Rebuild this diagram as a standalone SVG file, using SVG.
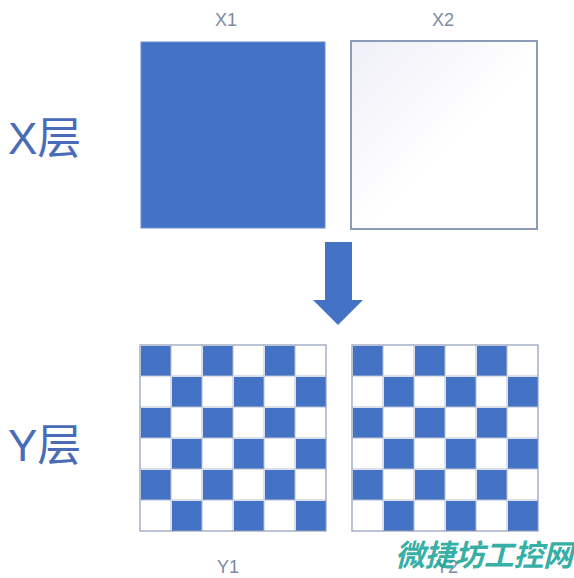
<svg xmlns="http://www.w3.org/2000/svg" width="574" height="578" viewBox="0 0 574 578">
<style>
.lbl{font-family:"Liberation Sans",Arial,sans-serif;font-size:18px;fill:#7d8aa3;text-anchor:middle}
.layer{font-family:"Liberation Sans","Noto Sans CJK SC",sans-serif;font-size:44px;fill:#4a6cb8}
.b{fill:#4472c4}
.grid{stroke:#b7c0d3;stroke-width:1;fill:none}
</style>
<defs>
<linearGradient id="g2" x1="0" y1="0" x2="1" y2="1">
<stop offset="0" stop-color="#eff0f8"/>
<stop offset="0.55" stop-color="#ffffff"/>
</linearGradient>
<pattern id="chk" x="0" y="0" width="62" height="62" patternUnits="userSpaceOnUse">
<rect width="62" height="62" fill="#ffffff"/>
<rect x="1" y="1" width="30" height="30" class="b"/>
<rect x="32" y="32" width="30" height="30" class="b"/>
</pattern>
</defs>
<rect width="574" height="578" fill="#ffffff"/>
<g id="label-xlayer"><text class="layer" x="8" y="154">X层</text></g>
<g id="label-ylayer"><text class="layer" x="8" y="461">Y层</text></g>
<g id="X1"><rect x="141" y="42" width="184" height="186" class="b" stroke="#6b8ed0" stroke-width="1"/><text class="lbl" x="226" y="26">X1</text></g>
<g id="X2"><rect x="351" y="41" width="186" height="188" fill="url(#g2)" stroke="#8e9bb8" stroke-width="2"/><text class="lbl" x="443" y="26">X2</text></g>
<g id="connectors"><path d="M325,242 H352 V300 H363 L338,325 L313,300 H325 Z" fill="#4472c4"/></g>
<g id="Y1">
<g transform="translate(140,345)">
<rect width="186" height="186" fill="url(#chk)"/>
<path class="grid" d="M31,0V186M62,0V186M93,0V186M124,0V186M155,0V186M0,31H186M0,62H186M0,93H186M0,124H186M0,155H186"/>
<rect width="186" height="186" fill="none" stroke="#8e9bb8" stroke-width="1.2"/>
</g>
<text class="lbl" x="228" y="573">Y1</text>
</g>
<g id="Y2">
<g transform="translate(352,345)">
<rect width="186" height="186" fill="url(#chk)"/>
<path class="grid" d="M31,0V186M62,0V186M93,0V186M124,0V186M155,0V186M0,31H186M0,62H186M0,93H186M0,124H186M0,155H186"/>
<rect width="186" height="186" fill="none" stroke="#8e9bb8" stroke-width="1.2"/>
</g>
<text class="lbl" x="447" y="573">Y2</text>
</g>
<g id="watermark"><text x="395" y="566" font-family="'Noto Sans CJK SC',sans-serif" font-size="30" font-weight="bold" font-style="italic" fill="#22a89c" fill-opacity="0.92" textLength="178">微捷坊工控网</text></g>
</svg>
